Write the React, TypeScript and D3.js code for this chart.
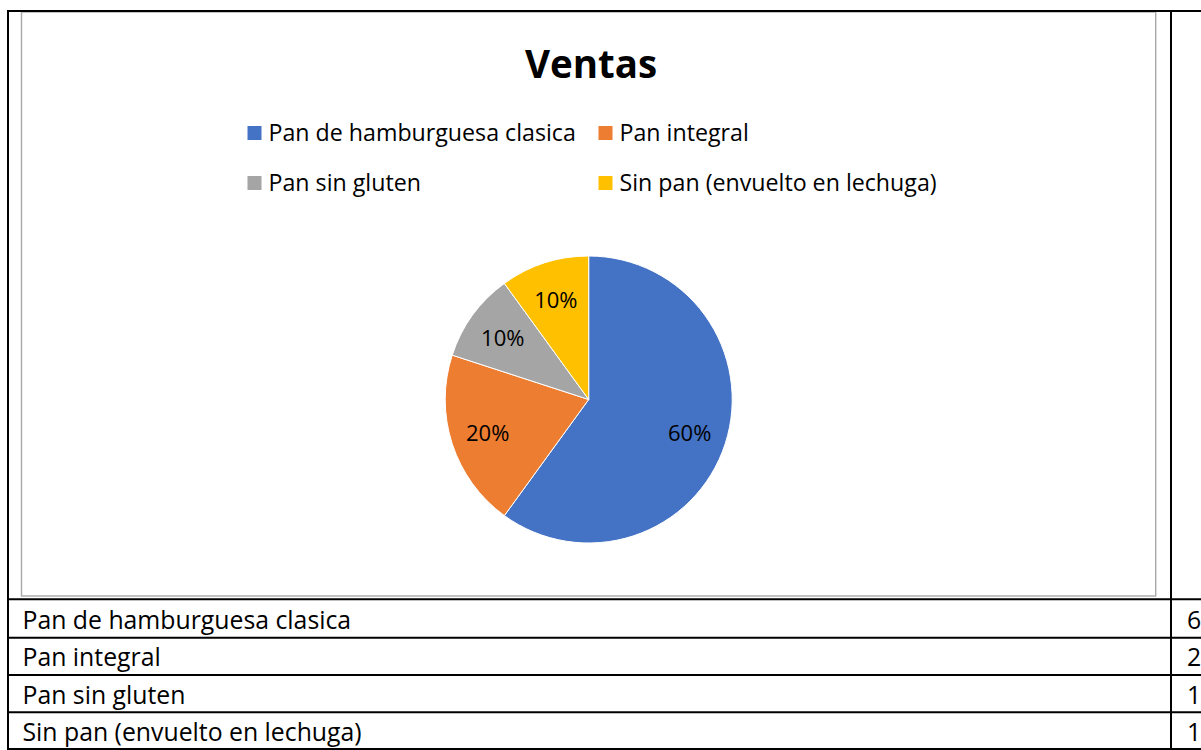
import React from "react";
import * as d3 from "d3";

const title = "Ventas";
const categories = [
  "Pan de hamburguesa clasica",
  "Pan integral",
  "Pan sin gluten",
  "Sin pan (envuelto en lechuga)",
];
const values = [6, 2, 1, 1];
const colors = ["#4472C4", "#ED7D31", "#A5A5A5", "#FFC000"];

const W = 1201;
const H = 750;
const FONT = "'Open Sans', 'Noto Sans', sans-serif";

export default function App() {
  const cx = 588.7;
  const cy = 399.5;
  const r = 143.5;
  const total = d3.sum(values);
  const pie = d3.pie<number>().sort(null).value((d) => d)(values);
  const arc = d3.arc<d3.PieArcDatum<number>>().innerRadius(0).outerRadius(r);
  const labelArc = d3
    .arc<d3.PieArcDatum<number>>()
    .innerRadius(r * 0.74)
    .outerRadius(r * 0.74);

  const rowLines = [599.3, 637.7, 675, 712.3, 749];
  const rowBaselines = [628.5, 666, 703.5, 740.5];

  const legendPos = [
    { x: 247.5, y: 133 },
    { x: 598.5, y: 133 },
    { x: 247.5, y: 183 },
    { x: 598.5, y: 183 },
  ];

  return (
    <svg
      width={W}
      height={H}
      style={{ position: "absolute", left: 0, top: 0, background: "#fff" }}
    >
      <rect x={0} y={0} width={W} height={H} fill="#fff" />
      <rect
        x={21.5}
        y={12}
        width={1155.7 - 21.5}
        height={596 - 12}
        fill="#fff"
        stroke="#a9a9a9"
        strokeWidth={1.4}
      />
      <text
        x={591}
        y={78}
        textAnchor="middle"
        fontFamily={FONT}
        fontWeight={700}
        fontSize={38.5}
        fill="#000"
      >
        {title}
      </text>
      {categories.map((c, i) => (
        <g key={c}>
          <rect
            x={legendPos[i].x}
            y={legendPos[i].y - 7}
            width={14}
            height={14}
            fill={colors[i]}
          />
          <text
            x={legendPos[i].x + 21}
            y={legendPos[i].y + 8}
            fontFamily={FONT}
            fontSize={23.2}
            fill="#000"
          >
            {c}
          </text>
        </g>
      ))}
      <g transform={`translate(${cx},${cy})`}>
        {pie.map((p, i) => (
          <path
            key={i}
            d={arc(p) || ""}
            fill={colors[i]}
            stroke="#fff"
            strokeWidth={1}
          />
        ))}
        {pie.map((p, i) => {
          const [lx, ly] = labelArc.centroid(p);
          return (
            <text
              key={"l" + i}
              x={lx}
              y={ly}
              textAnchor="middle"
              dominantBaseline="central"
              fontFamily={FONT}
              fontSize={22}
              fill="#000"
            >
              {d3.format(".0%")(p.value / total)}
            </text>
          );
        })}
      </g>
      <line x1={8} x2={W} y1={11} y2={11} stroke="#000" strokeWidth={2} />
      <line x1={8} x2={8} y1={10} y2={750} stroke="#000" strokeWidth={2} />
      <line x1={1171} x2={1171} y1={10} y2={750} stroke="#000" strokeWidth={2} />
      {rowLines.map((y, i) => (
        <line key={i} x1={8} x2={W} y1={y} y2={y} stroke="#000" strokeWidth={2} />
      ))}
      {categories.map((c, i) => (
        <g key={"row" + i}>
          <text
            x={22.5}
            y={rowBaselines[i]}
            fontFamily={FONT}
            fontSize={24.8}
            fill="#000"
          >
            {c}
          </text>
          <text
            x={1187}
            y={rowBaselines[i]}
            fontFamily={FONT}
            fontSize={24.8}
            fill="#000"
          >
            {values[i]}
          </text>
        </g>
      ))}
    </svg>
  );
}
